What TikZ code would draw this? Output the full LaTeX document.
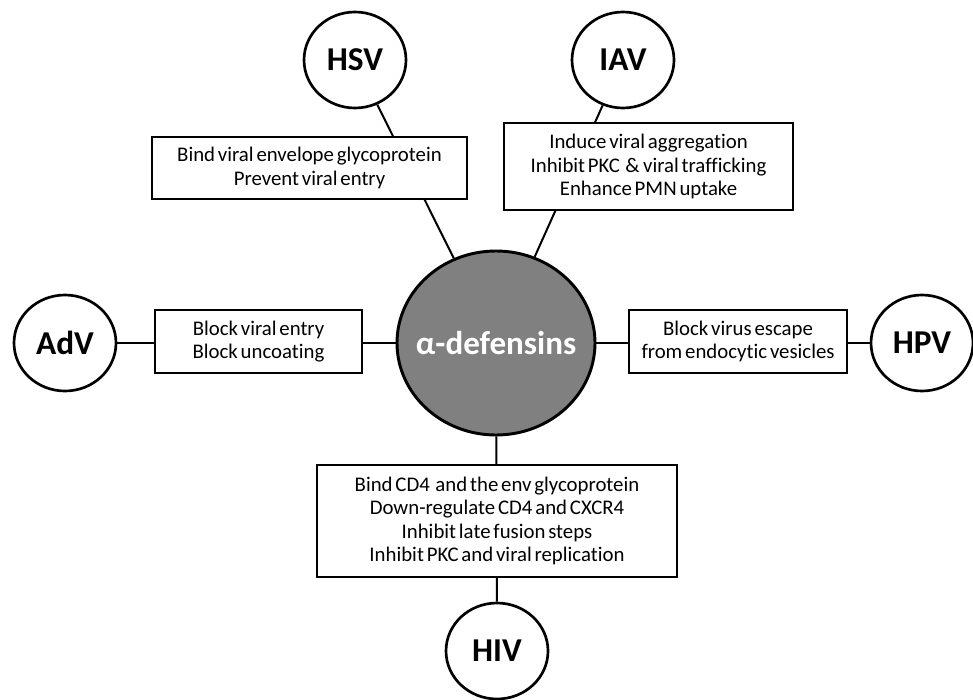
\documentclass[tikz,border=0pt]{standalone}
\usepackage{fontspec}
\setmainfont[WordSpace=0.6,Ligatures=NoCommon]{Carlito}
\usetikzlibrary{shapes.geometric}
\definecolor{defgray}{RGB}{128,128,128}

\begin{document}
\begin{tikzpicture}[x=0.75pt,y=-0.75pt,
		virus/.style={draw,ellipse,line width=2pt,minimum width=76.5pt,minimum height=72pt,inner sep=0pt,font=\fontsize{25}{28}\selectfont\bfseries},
		effect/.style={draw,fill=white,line width=1.1pt,align=center,inner sep=0pt,font=\fontsize{15.6}{17.6}\selectfont},
		link/.style={line width=1.5pt}]
	\useasboundingbox (0,0) rectangle (973,699);

	% centre
	\node[draw,ellipse,line width=2.2pt,fill=defgray,text=white,minimum width=148.5pt,minimum height=138pt,inner sep=0pt,font=\fontsize{24.8}{28}\selectfont\bfseries] (def) at (496,343) {\makebox[0pt]{α-defensins}};

	% viruses
	\node[virus] (hsv) at (355,60) {HSV};
	\node[virus] (iav) at (623,60) {IAV};
	\node[virus] (adv) at (65,343) {AdV};
	\node[virus] (hpv) at (922,343) {HPV};
	\node[virus] (hiv) at (497,651) {HIV};

	\foreach \v in {hsv,iav,adv,hpv,hiv}
		\draw[link] (\v) -- (def);

	% mechanisms
	\node[effect,minimum width=236.25pt,minimum height=46.5pt] (hsvbox) at (309.5,168) {Bind viral envelope glycoprotein\\Prevent viral entry};
	\node[effect,minimum width=216.75pt,minimum height=65.25pt] (iavbox) at (648.5,166.5) {Induce viral aggregation\\Inhibit PKC \ \&\,viral trafficking\\Enhance PMN uptake};
	\node[effect,minimum width=155.25pt,minimum height=47.25pt] (advbox) at (258.5,341.5) {Block viral entry\\Block uncoating};
	\node[effect,minimum width=163.5pt,minimum height=47.25pt] (hpvbox) at (738,341.5) {Block virus escape\\from endocytic vesicles};
	\node[effect,minimum width=270pt,minimum height=84pt] (hivbox) at (497,521) {Bind CD4 \ and the env glycoprotein\\Down-regulate CD4 and CXCR4\\Inhibit late fusion steps\\Inhibit PKC and viral replication};
\end{tikzpicture}
\end{document}
